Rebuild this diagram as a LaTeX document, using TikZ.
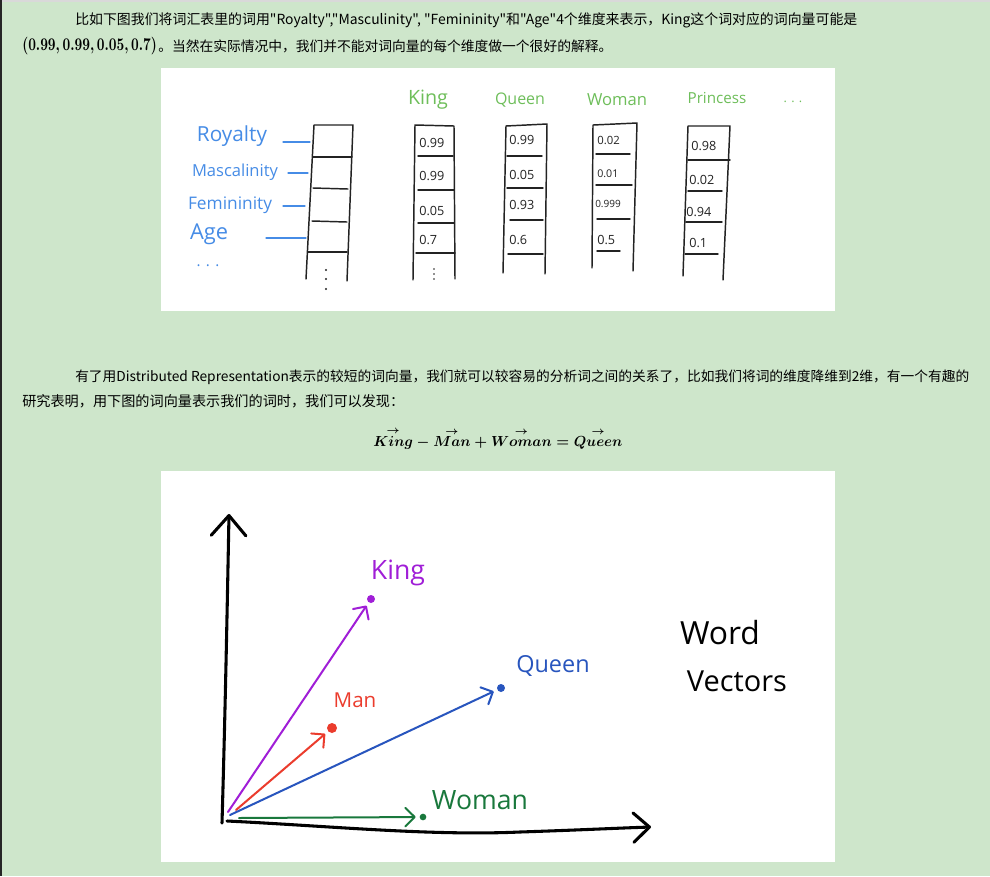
\documentclass[tikz,border=0pt]{standalone}
\usepackage{fontspec}
\usepackage{amsmath}
\usepackage{graphicx}
\usetikzlibrary{arrows.meta}
\newfontfamily\cjk{Noto Sans CJK SC}
\newfontfamily\hand{Open Sans}
\definecolor{bg}{RGB}{206,230,203}
\definecolor{ink}{RGB}{35,35,35}
\definecolor{lblue}{RGB}{70,140,230}
\definecolor{lgreen}{RGB}{110,190,90}
\definecolor{kpurple}{RGB}{160,30,215}
\definecolor{mred}{RGB}{235,60,45}
\definecolor{qblue}{RGB}{40,85,190}
\definecolor{wgreen}{RGB}{25,120,60}
\newcommand{\fitw}[2]{\resizebox{#1}{!}{#2}}
\newcommand{\arrw}[1]{\overset{\rightarrow}{#1}}
\begin{document}
\begin{tikzpicture}[x=0.75pt,y=-0.75pt,
  txt/.style={inner sep=0pt, anchor=west, font={\cjk\fontsize{10.3}{12}\selectfont}, text=black},
  col/.style={draw=ink, line width=1.1pt, line cap=round, line join=round},
  val/.style={inner sep=0pt, anchor=west, font={\hand\fontsize{9.5}{11}\selectfont}, text=ink},
  rowlbl/.style={inner sep=0pt, font=\hand, text=lblue},
  rowline/.style={draw=lblue, line width=0.9pt, line cap=round},
  collbl/.style={inner sep=0pt, font=\hand, text=lgreen},
  axis/.style={draw=black, line width=2.3pt, line cap=round, line join=round},
  vec/.style={line width=1.5pt, line cap=round, line join=round, shorten >=3pt,
     -{Straight Barb[length=7pt,width=14pt,line cap=round,line join=round]}},
  dotn/.style={circle, inner sep=0pt, minimum size=5pt, outer sep=0pt},
  plbl/.style={inner sep=0pt, font=\hand}
]
\useasboundingbox (0,0) rectangle (990,876);
\fill[bg] (0,0) rectangle (990,876);
\fill[black!15] (0,0) rectangle (990,2);
\fill[black!85] (0,0) rectangle (1.6,876);
\fill[white] (161,68) rectangle (835,311);
\fill[white] (161,471) rectangle (835,862);

% ---------- paragraph 1 ----------
\node[txt] (l1) at (75,20) {\fitw{586.5pt}{比如下图我们将词汇表里的词用"Royalty","Masculinity", "Femininity"和"Age"4个维度来表示，King这个词对应的词向量可能是}};
\node[txt] (l2a) at (22,46) {\resizebox{101pt}{10pt}{\boldmath$(0.99, 0.99, 0.05, 0.7)$}};
\node[txt] (l2b) at (158,46) {\fitw{340.5pt}{。当然在实际情况中，我们并不能对词向量的每个维度做一个很好的解释。}};

% ---------- paragraph 2 ----------
\node[txt] (l3) at (75,377) {\fitw{670.5pt}{有了用Distributed Representation表示的较短的词向量，我们就可以较容易的分析词之间的关系了，比如我们将词的维度降维到2维，有一个有趣的}};
\node[txt] (l4) at (22,401) {\fitw{286.5pt}{研究表明，用下图的词向量表示我们的词时，我们可以发现：}};
\node[inner sep=0pt] (eq) at (498,439) {\resizebox{186.75pt}{14pt}{\boldmath$\arrw{King}-\arrw{Man}+\arrw{Woman}=\arrw{Queen}$}};

% ---------- panel 1: row labels ----------
\node[rowlbl] (rroy) at (232,136) {\fitw{52.5pt}{Royalty}};
\node[rowlbl] (rmas) at (235,172) {\fitw{64.5pt}{Mascalinity}};
\node[rowlbl] (rfem) at (230,205) {\fitw{63pt}{Femininity}};
\node[rowlbl] (rage) at (209,234) {\fitw{28.5pt}{Age}};
\node[rowlbl] (rdots) at (208,266) {\fitw{17pt}{. . .}};
\draw[rowline] (283,142) -- (310,142);
\draw[rowline] (288,173) -- (308,173);
\draw[rowline] (283,206) -- (305,206);
\draw[rowline] (266,238) -- (306,238);

% empty column
\draw[col] (306,279) -- (314,125) -- (353,125) -- (347,281);
\draw[col] (313,157) -- (352,157);
\draw[col] (313,188) -- (348,189);
\draw[col] (312,221) -- (347,222);
\draw[col] (308,252) -- (347,252);
\foreach \yy in {270,279,289} \fill[ink] (326,\yy) circle (0.8pt);

% column labels
\node[collbl] (cking) at (428,100) {\fitw{30pt}{King}};
\node[collbl] (cqueen) at (520,100) {\fitw{37.5pt}{Queen}};
\node[collbl] (cwoman) at (617,100) {\fitw{45pt}{Woman}};
\node[collbl] (cprin) at (717,98) {\fitw{44pt}{Princess}};
\node[collbl] (cdots) at (793,102) {\fitw{14pt}{. . .}};

% King column
\draw[col] (413,280) -- (415,125) -- (454,126) -- (455,279);
\draw[col] (418,156) -- (453,156);
\draw[col] (418,190) -- (454,190);
\draw[col] (418,223) -- (454,223);
\draw[col] (416,253) -- (455,253);
\foreach \yy in {269,274,279} \fill[ink] (434,\yy) circle (0.6pt);
\node[val] (k1) at (419,143) {0.99};
\node[val] (k2) at (419,176) {0.99};
\node[val] (k3) at (419,211) {0.05};
\node[val] (k4) at (419,240) {0.7};

% Queen column
\draw[col] (503,273) -- (506,126) -- (547,124) -- (545,274);
\draw[col] (507,156) -- (542,156);
\draw[col] (507,188) -- (543,188);
\draw[col] (510,220) -- (543,220);
\draw[col] (508,254) -- (543,254);
\node[val] (q1) at (509,140) {0.99};
\node[val] (q2) at (509,175) {0.05};
\node[val] (q3) at (509,205) {0.93};
\node[val] (q4) at (509,240) {0.6};

% Woman column
\draw[col] (592,268) -- (593,125) -- (637,123) -- (633,271);
\draw[col] (596,154) -- (630,154);
\draw[col] (596,185) -- (632,185);
\draw[col] (597,219) -- (630,219);
\draw[col] (597,251) -- (620,251);
\node[val, font={\hand\fontsize{8.5}{10}\selectfont}] (w1) at (597,140) {0.02};
\node[val, font={\hand\fontsize{8}{10}\selectfont}] (w2) at (597,174) {0.01};
\node[val, font={\hand\fontsize{7.5}{10}\selectfont}] (w3) at (595,204) {0.999};
\node[val] (w4) at (597,240) {0.5};

% Princess column
\draw[col] (683,276) -- (688,126) -- (730,126) -- (723,280);
\draw[col] (688,160) -- (730,160);
\draw[col] (688,191) -- (722,191);
\draw[col] (686,222) -- (722,222);
\draw[col] (685,254) -- (718,254);
\node[val] (p1) at (691,146) {0.98};
\node[val] (p2) at (689,180) {0.02};
\node[val] (p3) at (686,212) {0.94};
\node[val] (p4) at (689,243) {0.1};

% ---------- panel 2 ----------
\coordinate (ybot) at (222,823);
\coordinate (ytop) at (229,514);
\coordinate (xl) at (227,821);
\coordinate (xr) at (651,827);
\draw[axis, -{Straight Barb[length=15pt,width=26pt,line cap=round,line join=round]}]
  (ybot) .. controls (225,720) and (227,620) .. (ytop);
\draw[axis, -{Straight Barb[length=12pt,width=22pt,line cap=round,line join=round]}]
  (xl) .. controls (330,826) and (430,836) .. (520,832) .. controls (580,830) and (620,828) .. (xr);

\node[dotn, fill=kpurple, minimum size=6pt] (kd) at (371,599) {};
\node[dotn, fill=mred, minimum size=7.5pt] (md) at (332,728) {};
\node[dotn, fill=qblue, minimum size=6pt] (qd) at (501,688) {};
\node[dotn, fill=wgreen, minimum size=5pt] (wd) at (423,817) {};

\coordinate (ko) at (228,812);
\coordinate (mo) at (236,810);
\coordinate (qo) at (230,815);
\coordinate (wo) at (239,818);

\draw[vec, draw=kpurple] (ko) -- (kd);
\draw[vec, draw=mred] (mo) -- (md);
\draw[vec, draw=qblue] (qo) -- (qd);
\draw[vec, draw=wgreen] (wo) -- (wd);

\node[plbl, text=kpurple] (kl) at (398,573) {\fitw{40.5pt}{King}};
\node[plbl, text=mred] (ml) at (355,700) {\fitw{32pt}{Man}};
\node[plbl, text=qblue] (ql) at (553,666) {\fitw{55pt}{Queen}};
\node[plbl, text=wgreen] (wl) at (480,800) {\fitw{72pt}{Woman}};
\node[plbl, text=black] (wordl) at (720,633) {\fitw{60pt}{Word}};
\node[plbl, text=black] (vecl) at (737,681) {\fitw{75pt}{Vectors}};
\end{tikzpicture}
\end{document}
